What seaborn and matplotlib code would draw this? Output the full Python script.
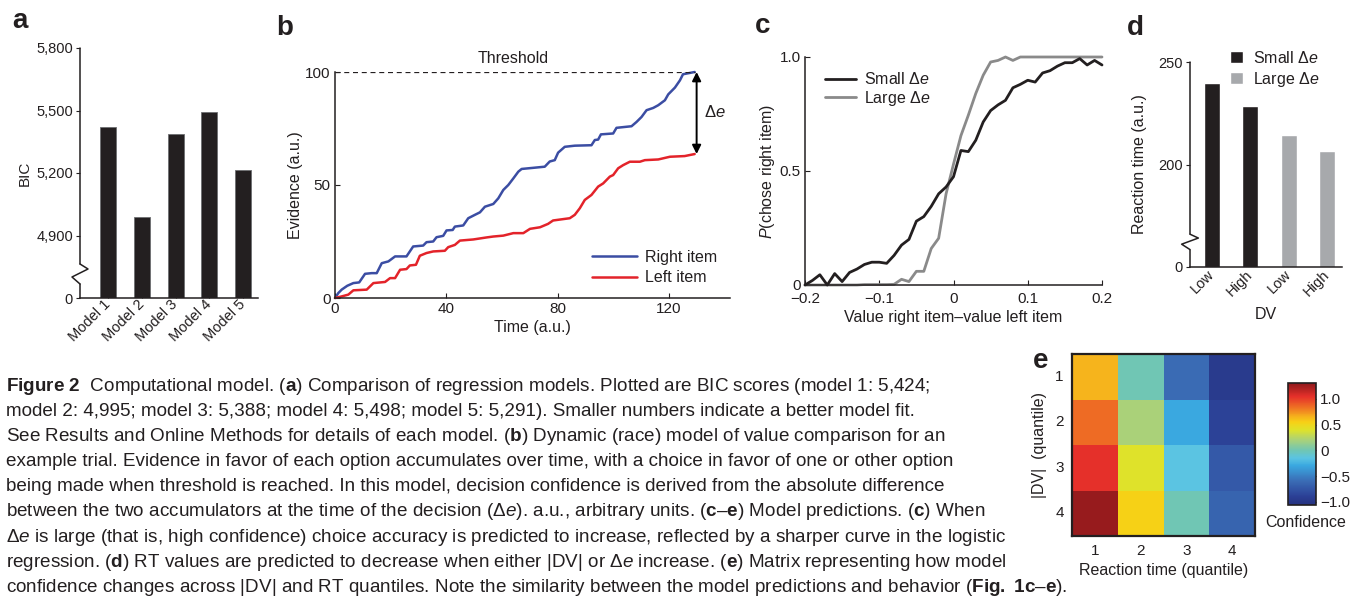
import matplotlib
matplotlib.use("Agg")
import matplotlib.pyplot as plt
import numpy as np
import pandas as pd
import seaborn as sns
from matplotlib.colors import LinearSegmentedColormap

# ---------------- data ----------------
models = ['Model 1', 'Model 2', 'Model 3', 'Model 4', 'Model 5']
bic = [5422, 4990, 5387, 5494, 5214]

time_right = [0, 1.2, 2.4, 4.4, 6.6, 8.7, 10.8, 13.2, 15, 16.8, 19.2, 21.6, 25.7, 28.1, 31.7,
              32.9, 35.3, 36.5, 38.9, 40.1, 42.3, 43.1, 46.1, 47.9, 50.3, 52.1, 53.9, 56.9,
              58.7, 60.5, 62.3, 64.1, 65.9, 67.1, 71.3, 75.4, 77.2, 79, 80.2, 82.6, 86.2,
              92.2, 93.4, 94.6, 95.6, 100, 101.2, 106.6, 108.4, 110.2, 112, 114.4, 116.2,
              118.6, 119.8, 122.2, 124, 125.1, 129.3]
ev_right = [0, 2.2, 3.7, 5.4, 6.6, 6.9, 10.7, 11, 11, 15.4, 16.2, 18.4, 18.4, 22.8, 23.2,
            24.7, 25, 26.9, 27.5, 29.9, 30.1, 31.6, 32.1, 35.3, 36.8, 37.9, 40.4, 41.6,
            44.1, 47.8, 50, 52.9, 55.9, 57.1, 57.6, 58.1, 60.4, 61, 64.3, 66.9, 67.4,
            67.6, 69.9, 70.1, 72.4, 72.8, 75.3, 76, 77.9, 80.1, 83.1, 84.1, 85.3,
            87.5, 90.1, 93.1, 96.3, 99, 100]
time_left = [0, 2.4, 4.8, 6.6, 11.4, 13.8, 18, 19.8, 21.6, 23.4, 25.7, 26.9, 29.1, 30.5,
             32.9, 35.3, 39.5, 40.7, 43.1, 44.9, 49.7, 54.5, 56.9, 60.5, 64.1, 67.7, 70.1,
             73.7, 76.6, 78.4, 82, 84.4, 86.2, 88, 89.8, 92.2, 94.6, 96.4, 98.8, 100,
             101.8, 103.6, 106, 109.6, 111.4, 116.2, 120.4, 125.7, 129.3]
ev_left = [0, 0.7, 1.5, 3.4, 3.7, 6.6, 7.1, 8.8, 8.8, 12.5, 12.8, 14.4, 14.7, 18.7,
           19.9, 20.6, 20.9, 22.5, 23.5, 25.4, 25.9, 26.8, 27.2, 27.6, 28.7, 28.7, 30.6,
           31.3, 32.8, 34.3, 34.9, 35.3, 36.8, 39.7, 43.4, 45.6, 49.3, 50.7, 53.7, 54.4,
           57.4, 58.8, 60.3, 60.3, 61, 61.3, 62.5, 62.8, 63.7]
threshold = 100

value_diff = [-0.20, -0.19, -0.18, -0.17, -0.16, -0.15, -0.14, -0.13, -0.12, -0.11,
              -0.10, -0.09, -0.08, -0.07, -0.06, -0.05, -0.04, -0.03, -0.02, -0.01,
              0.00, 0.01, 0.02, 0.03, 0.04, 0.05, 0.06, 0.07, 0.08, 0.09,
              0.10, 0.11, 0.12, 0.13, 0.14, 0.15, 0.16, 0.17, 0.18, 0.19, 0.20]
p_small = [0.0, 0.02, 0.045, 0.0, 0.05, 0.015, 0.055, 0.07, 0.09, 0.10,
           0.10, 0.095, 0.13, 0.175, 0.20, 0.28, 0.30, 0.345, 0.40, 0.43,
           0.475, 0.59, 0.585, 0.635, 0.715, 0.765, 0.79, 0.81, 0.865, 0.88,
           0.898, 0.89, 0.93, 0.94, 0.96, 0.975, 0.975, 0.993, 0.965, 0.985, 0.965]
p_large = [0.0, 0.0, 0.0, 0.0, 0.0, 0.0, 0.0, 0.0, 0.002, 0.002,
           0.002, 0.002, 0.003, 0.025, 0.015, 0.06, 0.06, 0.16, 0.205, 0.40,
           0.53, 0.655, 0.745, 0.84, 0.92, 0.978, 0.985, 1.0, 0.985, 1.0,
           1.0, 1.0, 1.0, 1.0, 1.0, 1.0, 1.0, 1.0, 1.0, 1.0, 1.0]

rt_cond = ['Small Low', 'Small High', 'Large Low', 'Large High']
rt_dv = ['Low', 'High', 'Low', 'High']
rt_de = ['Small', 'Small', 'Large', 'Large']
rt_values = [240.0, 228.4, 214.2, 206.4]

quantiles = [1, 2, 3, 4]
confidence = [[0.65, 0.00, -0.60, -0.95],
              [0.85, 0.20, -0.30, -0.88],
              [1.05, 0.40, -0.15, -0.72],
              [1.28, 0.55, 0.00, -0.65]]

caption_lines = [
    r"$\mathbf{Figure\ 2}$  Computational model. ($\mathbf{a}$) Comparison of regression models. Plotted are BIC scores (model 1: 5,424;",
    r"model 2: 4,995; model 3: 5,388; model 4: 5,498; model 5: 5,291). Smaller numbers indicate a better model fit.",
    r"See Results and Online Methods for details of each model. ($\mathbf{b}$) Dynamic (race) model of value comparison for an",
    r"example trial. Evidence in favor of each option accumulates over time, with a choice in favor of one or other option",
    r"being made when threshold is reached. In this model, decision confidence is derived from the absolute difference",
    r"between the two accumulators at the time of the decision (Δ$\mathit{e}$). a.u., arbitrary units. ($\mathbf{c}$–$\mathbf{e}$) Model predictions. ($\mathbf{c}$) When",
    r"Δ$\mathit{e}$ is large (that is, high confidence) choice accuracy is predicted to increase, reflected by a sharper curve in the logistic",
    r"regression. ($\mathbf{d}$) RT values are predicted to decrease when either |DV| or Δ$\mathit{e}$ increase. ($\mathbf{e}$) Matrix representing how model",
    r"confidence changes across |DV| and RT quantiles. Note the similarity between the model predictions and behavior ($\mathbf{Fig.\ 1c}$–$\mathbf{e}$).",
]

# ---------------- style ----------------
sns.set_style("ticks")
INK = '#231f20'
plt.rcParams['font.family'] = ['Liberation Sans', 'DejaVu Sans']
plt.rcParams['mathtext.fontset'] = 'custom'
plt.rcParams['mathtext.rm'] = 'Liberation Sans'
plt.rcParams['mathtext.it'] = 'Liberation Sans:italic'
plt.rcParams['mathtext.bf'] = 'Liberation Sans:bold'
for k in ['text.color', 'axes.labelcolor', 'xtick.color', 'ytick.color', 'axes.edgecolor']:
    plt.rcParams[k] = INK
plt.rcParams['axes.linewidth'] = 1.1

W, H = 1352, 596
def rect(l, t, r, b):
    return [l / W, 1 - b / H, (r - l) / W, (b - t) / H]

def axis_break(ax, y0, y1, dx):
    ax.spines['left'].set_visible(False)
    kw = dict(transform=ax.transAxes, color=INK, lw=1.1, clip_on=False)
    ax.plot([0, 0], [y1, 1], **kw)
    ax.plot([0, 0], [0, y0], **kw)
    ax.plot([0, dx, -dx, 0], [y1, y1 - (y1 - y0) * 0.25, y0 + (y1 - y0) * 0.35, y0], **kw)

fig = plt.figure(figsize=(13.52, 5.96), dpi=100)

# ---------------- panel a ----------------
axa = fig.add_axes(rect(80, 48, 258, 298))
sns.barplot(x=models, y=bic, color=INK, width=0.47, saturation=1, ax=axa,
            edgecolor='#6d6e71', linewidth=0.6)
axa.set_ylim(4600, 5800)
axa.set_yticks([4600, 4900, 5200, 5500, 5800])
axa.set_yticklabels(['0', '4,900', '5,200', '5,500', '5,800'])
axa.set_xlim(-0.83, 4.44)
axa.set_ylabel('BIC', fontsize=11, labelpad=3)
axa.tick_params(axis='y', direction='out', length=3, labelsize=10.5, pad=2)
axa.tick_params(axis='x', direction='in', length=3, labelsize=10.5, pad=3)
plt.setp(axa.get_xticklabels(), rotation=45, ha='right', va='center', rotation_mode='anchor')
sns.despine(ax=axa)
axis_break(axa, 0.056, 0.136, 0.045)

# ---------------- panel b ----------------
axb = fig.add_axes(rect(335, 72, 730, 298))
sns.lineplot(x=time_right, y=ev_right, ax=axb, color='#3b4da3', lw=1.8,
             label='Right item', sort=False, estimator=None)
sns.lineplot(x=time_left, y=ev_left, ax=axb, color='#e3232a', lw=1.8,
             label='Left item', sort=False, estimator=None)
for ln in axb.lines:
    ln.set_clip_on(False)
decision_t = time_right[-1]
axb.hlines(threshold, 0, decision_t, colors=INK, linestyles=(0, (4, 3)), lw=0.9)
axb.annotate('', xy=(decision_t + 0.7, threshold), xytext=(decision_t + 0.7, ev_left[-1]),
             arrowprops=dict(arrowstyle='<|-|>', color='k', lw=1.4, mutation_scale=13,
                             shrinkA=0, shrinkB=0))
axb.text(decision_t + 3.5, (threshold + ev_left[-1]) / 2 + 0.5, 'Δ$\\mathit{e}$',
         va='center', ha='left', fontsize=12)
axb.text(64, threshold + 2.5, 'Threshold', ha='center', va='bottom', fontsize=11.5)
axb.set_xlim(0, 142)
axb.set_ylim(0, 100)
axb.set_xticks([0, 40, 80, 120])
axb.set_yticks([0, 50, 100])
axb.set_xlabel('Time (a.u.)', fontsize=11.5, labelpad=3)
axb.set_ylabel('Evidence (a.u.)', fontsize=11.5, labelpad=2)
axb.tick_params(direction='in', length=3.5, labelsize=11, pad=3)
axb.legend(loc='lower right', frameon=False, fontsize=11.5, handlelength=2.8,
           borderaxespad=0.4, labelspacing=0.35, handletextpad=0.5)
sns.despine(ax=axb)

# ---------------- panel c ----------------
axc = fig.add_axes(rect(805, 57, 1102, 285))
sns.lineplot(x=value_diff, y=p_small, ax=axc, color=INK, lw=2.0,
             label='Small Δ$\\mathit{e}$', estimator=None, zorder=3)
sns.lineplot(x=value_diff, y=p_large, ax=axc, color='#8a8a8a', lw=2.0,
             label='Large Δ$\\mathit{e}$', estimator=None, zorder=2)
for ln in axc.lines:
    ln.set_clip_on(False)
axc.set_xlim(-0.2, 0.2)
axc.set_ylim(0, 1)
axc.set_xticks([-0.2, -0.1, 0, 0.1, 0.2])
axc.set_xticklabels(['\u22120.2', '\u22120.1', '0', '0.1', '0.2'])
axc.set_yticks([0, 0.5, 1.0])
axc.set_yticklabels(['0', '0.5', '1.0'])
axc.set_xlabel('Value right item\u2013value left item', fontsize=11.5, labelpad=3)
axc.set_ylabel('$\\mathit{P}$(chose right item)', fontsize=11.5, labelpad=2)
axc.tick_params(axis='x', direction='in', length=3.5, labelsize=11, pad=5)
axc.tick_params(axis='y', direction='in', length=3.5, labelsize=11, pad=3)
plt.setp(axc.get_yticklabels()[0], va='center_baseline')
axc.legend(loc='upper left', frameon=False, fontsize=11.5, handlelength=1.9,
           borderaxespad=0.5, labelspacing=0.1, handletextpad=0.5, bbox_to_anchor=(0.02, 1.0))
sns.despine(ax=axc)

# ---------------- panel d ----------------
axd = fig.add_axes(rect(1190, 62, 1342, 267))
df_d = pd.DataFrame({'cond': rt_cond, 'rt': rt_values,
                     'de': ['Small Δ$\\mathit{e}$' if d == 'Small' else 'Large Δ$\\mathit{e}$' for d in rt_de]})
sns.barplot(data=df_d, x='cond', y='rt', hue='de', dodge=False, width=0.42, saturation=1,
            palette={'Small Δ$\\mathit{e}$': INK, 'Large Δ$\\mathit{e}$': '#a7a9ac'}, ax=axd)
axd.set_ylim(150, 250)
axd.set_yticks([150, 200, 250])
axd.set_yticklabels(['0', '200', '250'])
axd.set_xlim(-0.57, 3.39)
axd.set_xticks(range(4))
axd.set_xticklabels(rt_dv)
axd.set_xlabel('DV', fontsize=11.5, labelpad=6)
axd.set_ylabel('Reaction time (a.u.)', fontsize=11.5, labelpad=8)
axd.tick_params(axis='y', direction='out', length=3, labelsize=10.5, pad=2)
axd.tick_params(axis='x', length=0, labelsize=10.5, pad=4)
plt.setp(axd.get_xticklabels(), rotation=45, ha='right', va='center', rotation_mode='anchor')
h, l = axd.get_legend_handles_labels()
axd.legend(h, l, loc='upper left', bbox_to_anchor=(0.17, 1.13), frameon=False, fontsize=11.5,
           handlelength=0.8, handleheight=0.8, handletextpad=0.6, labelspacing=0.25)
sns.despine(ax=axd)
axis_break(axd, 0.085, 0.16, 0.055)

# ---------------- panel e ----------------
axe = fig.add_axes(rect(1072, 354, 1255, 536))
cax = fig.add_axes(rect(1288, 383, 1316, 505))
conf_cmap = LinearSegmentedColormap.from_list('printjet', [
    (0.00, '#26327f'), (0.07, '#2b4096'), (0.195, '#3a6cb5'), (0.322, '#3aa8e0'),
    (0.384, '#5bc4e2'), (0.447, '#70c6b4'), (0.532, '#a9d17a'), (0.616, '#dfe22a'),
    (0.68, '#f7d116'), (0.722, '#f6b41c'), (0.806, '#ee6c24'), (0.89, '#e5302a'),
    (1.00, '#8e191c')])
sns.heatmap(pd.DataFrame(confidence, index=quantiles, columns=quantiles), ax=axe, cbar_ax=cax,
            cmap=conf_cmap, vmin=-1.06, vmax=1.31, cbar_kws={'ticks': [1, 0.5, 0, -0.5, -1]})
for s in axe.spines.values():
    s.set_visible(True)
    s.set_linewidth(1.6)
    s.set_color(INK)
axe.set_xlabel('Reaction time (quantile)', fontsize=11.5, labelpad=3)
axe.set_ylabel('|DV|  (quantile)', fontsize=11.5, labelpad=6)
axe.tick_params(axis='both', direction='in', length=4, labelsize=11, pad=6)
plt.setp(axe.get_yticklabels(), rotation=0)
cb = axe.collections[0].colorbar
cb.outline.set_linewidth(1.2)
cb.outline.set_edgecolor(INK)
cax.set_yticklabels(['1.0', '0.5', '0', '\u22120.5', '\u22121.0'])
cax.tick_params(direction='in', length=3, labelsize=11, pad=3)
fig.text(1306 / W, 1 - 527 / H, 'Confidence', ha='center', va='baseline', fontsize=11.5)

# ---------------- panel letters ----------------
for letter, x, yb in [('a', 12, 28), ('b', 276, 35), ('c', 755, 33), ('d', 1127, 35), ('e', 1033, 368)]:
    fig.text(x / W, 1 - yb / H, letter, fontsize=20, fontweight='bold', va='baseline', ha='left')

# ---------------- caption ----------------
for i, line in enumerate(caption_lines):
    fig.text(6 / W, 1 - (391 + 25.1 * i) / H, line, fontsize=13.6, va='baseline', ha='left')

fig.savefig('out.png', dpi=100)
